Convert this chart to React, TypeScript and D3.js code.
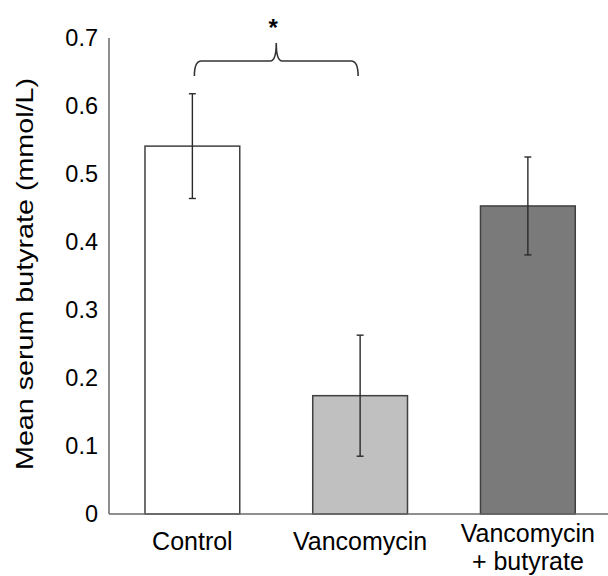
import React from "react";
import * as d3 from "d3";

const categories = ["Control", "Vancomycin", "Vancomycin + butyrate"];
const labelLines = [["Control"], ["Vancomycin"], ["Vancomycin", "+ butyrate"]];
const means = [0.541, 0.174, 0.453];
const errors = [0.077, 0.089, 0.072];
const fills = ["#ffffff", "#c0c0c0", "#7a7a7a"];
const yTicks = [0, 0.1, 0.2, 0.3, 0.4, 0.5, 0.6, 0.7];
const yTickLabels = ["0", "0.1", "0.2", "0.3", "0.4", "0.5", "0.6", "0.7"];
const yTitle = "Mean serum butyrate (mmol/L)";
const sigPair = ["Control", "Vancomycin"];
const sigLabel = "*";

const W = 608;
const H = 576;
const FONT = "'Liberation Sans', Arial, Helvetica, sans-serif";

export default function App() {
  const y = d3.scaleLinear().domain([0, 0.7]).range([514, 38]);
  const x = d3
    .scaleBand<string>()
    .domain(categories)
    .range([108.5, 611.75])
    .paddingInner(0.435)
    .paddingOuter(0.2175);
  const bw = x.bandwidth();
  const axisX = 109;
  const cap = 3.5;

  const bx1 = (x(sigPair[0]) as number) + bw / 2 + 2;
  const bx2 = (x(sigPair[1]) as number) + bw / 2 - 2;
  const bmid = (bx1 + bx2) / 2;
  const yEnd = 76;
  const yLine = 61;
  const yPeak = 43;
  const bracket = `M${bx1},${yEnd} Q${bx1},${yLine} ${bx1 + 7},${yLine} L${bmid - 6},${yLine} Q${bmid},${yLine} ${bmid},${yPeak} Q${bmid},${yLine} ${bmid + 6},${yLine} L${bx2 - 7},${yLine} Q${bx2},${yLine} ${bx2},${yEnd}`;

  return (
    <svg
      width={W}
      height={H}
      style={{ position: "absolute", left: 0, top: 0, background: "#fff" }}
      fontFamily={FONT}
    >
      <rect x={0} y={0} width={W} height={H} fill="#fff" />
      {/* bars */}
      {categories.map((c, i) => {
        const x0 = x(c) as number;
        return (
          <rect
            key={c}
            x={x0}
            y={y(means[i])}
            width={bw}
            height={y(0) - y(means[i])}
            fill={fills[i]}
            stroke="#404040"
            strokeWidth={1.5}
          />
        );
      })}
      {/* error bars */}
      {categories.map((c, i) => {
        const cx = (x(c) as number) + bw / 2;
        const yt = y(means[i] + errors[i]);
        const yb = y(means[i] - errors[i]);
        return (
          <g key={c + "err"} stroke="#2a2a2a" strokeWidth={1.4}>
            <line x1={cx} x2={cx} y1={yt} y2={yb} />
            <line x1={cx - cap} x2={cx + cap} y1={yt} y2={yt} />
            <line x1={cx - cap} x2={cx + cap} y1={yb} y2={yb} />
          </g>
        );
      })}
      {/* axes */}
      <line x1={axisX} x2={axisX} y1={y(0.7)} y2={y(0)} stroke="#6a6a6a" strokeWidth={1.5} />
      <line x1={axisX} x2={W} y1={y(0)} y2={y(0)} stroke="#6a6a6a" strokeWidth={1.5} />
      {yTicks.map((t, i) => (
        <text
          key={t}
          x={98}
          y={y(t)}
          dy="0.36em"
          textAnchor="end"
          fontSize={23.5}
          fill="#000"
        >
          {yTickLabels[i]}
        </text>
      ))}
      {/* x labels */}
      {categories.map((c, i) => {
        const cx = (x(c) as number) + bw / 2;
        const lines = labelLines[i];
        const base = lines.length === 1 ? 550 : 542;
        return (
          <text key={c + "lab"} x={cx} textAnchor="middle" fontSize={25} fill="#000">
            {lines.map((l, j) => (
              <tspan key={j} x={cx} y={base + j * 28}>
                {l}
              </tspan>
            ))}
          </text>
        );
      })}
      {/* y title */}
      <text
        transform={`translate(33, 274) rotate(-90)`}
        textAnchor="middle"
        fontSize={24}
        textLength={392}
        lengthAdjust="spacingAndGlyphs"
        fill="#000"
      >
        {yTitle}
      </text>
      {/* significance bracket */}
      <path d={bracket} fill="none" stroke="#333" strokeWidth={1.6} />
      <text x={bmid - 3} y={36} textAnchor="middle" fontSize={24} fontWeight="bold" fill="#000">
        {sigLabel}
      </text>
    </svg>
  );
}
